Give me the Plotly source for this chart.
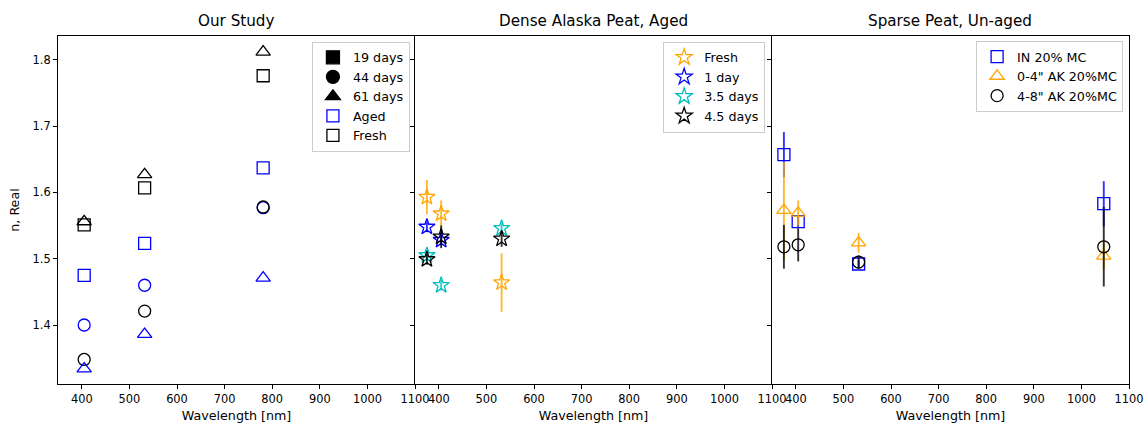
import plotly.graph_objects as go
from plotly.subplots import make_subplots

# ---------------- data ----------------
# Our Study (PAX wavelengths)
wl_ours = [405, 532, 781]
fresh_19d = [1.551, 1.607, 1.776]
aged_19d = [1.475, 1.523, 1.637]
fresh_44d = [1.348, 1.421, 1.578]
aged_44d = [1.400, 1.460, 1.577]
fresh_61d = [1.556, 1.627, 1.812]
aged_61d = [1.334, 1.386, 1.471]

# Dense Alaska Peat, Aged
wl_dense = [375, 405, 532]
dense_fresh = [1.593, 1.568, 1.464]
dense_fresh_err = [0.026, 0.020, 0.044]
dense_1day = [1.548, 1.528, None]
dense_1day_err = [0.008, 0.008, 0.0]
dense_3p5day = [1.505, 1.460, 1.546]
dense_3p5day_err = [0.008, 0.008, 0.008]
dense_4p5day = [1.499, 1.533, 1.530]
dense_4p5day_err = [0.008, 0.017, 0.012]

# Sparse Peat, Un-aged
wl_sparse = [375, 405, 532, 1047]
in_20mc = [1.657, 1.556, 1.492, 1.583]
in_20mc_err = [0.034, 0.008, 0.006, 0.034]
ak_0_4 = [1.573, 1.569, 1.524, 1.504]
ak_0_4_err = [0.073, 0.019, 0.015, 0.020]
ak_4_8 = [1.518, 1.521, 1.495, 1.518]
ak_4_8_err = [0.033, 0.025, 0.010, 0.060]

titles = ["Our Study", "Dense Alaska Peat, Aged", "Sparse Peat, Un-aged"]
x_ticks = [400, 500, 600, 700, 800, 900, 1000, 1100]
y_ticks = [1.4, 1.5, 1.6, 1.7, 1.8]

# ---------------- style ----------------
FONT = "DejaVu Sans"
BLUE = "#0000ff"
BLACK = "#000000"
ORANGE = "#ffa500"
CYAN = "#00bfbf"
EW = 1.3  # marker edge width


def rgba(hex_color, a):
    h = hex_color.lstrip("#")
    r, g, b = int(h[0:2], 16), int(h[2:4], 16), int(h[4:6], 16)
    return f"rgba({r},{g},{b},{a})"


def marker(symbol, color, size):
    return dict(symbol=symbol, size=size, color=color,
                line=dict(color=color, width=EW))


def errbar(values, color):
    return dict(type="data", array=values, visible=True, width=0,
                thickness=1.9, color=rgba(color, 0.8))


fig = make_subplots(rows=1, cols=3, shared_yaxes=True,
                    horizontal_spacing=0, subplot_titles=titles)

SQ, CI, TR, ST = 12, 12, 12.5, 12.2

# ---- panel 1: our study ----
panel1 = [
    (aged_19d, "square-open", BLUE, SQ),
    (fresh_19d, "square-open", BLACK, SQ),
    (aged_44d, "circle-open", BLUE, CI),
    (fresh_44d, "circle-open", BLACK, CI),
    (aged_61d, "triangle-up-open", BLUE, TR),
    (fresh_61d, "triangle-up-open", BLACK, TR),
]
for vals, sym, col, size in panel1:
    fig.add_trace(go.Scatter(x=wl_ours, y=vals, mode="markers",
                             marker=marker(sym, col, size),
                             showlegend=False, hoverinfo="x+y"),
                  row=1, col=1)

# legend-only entries for panel 1
legend1 = [
    ("19 days", "square", BLACK, 13),
    ("44 days", "circle", BLACK, 13),
    ("61 days", "triangle-up", BLACK, 13),
    ("Aged", "square-open", BLUE, 12),
    ("Fresh", "square-open", BLACK, 12),
]
for name, sym, col, size in legend1:
    fig.add_trace(go.Scatter(x=[None], y=[None], mode="markers", name=name,
                             marker=marker(sym, col, size),
                             legend="legend"),
                  row=1, col=1)

# ---- panel 2: dense Alaska peat ----
panel2 = [
    ("Fresh", dense_fresh, dense_fresh_err, ORANGE),
    ("1 day", dense_1day, dense_1day_err, BLUE),
    ("3.5 days", dense_3p5day, dense_3p5day_err, CYAN),
    ("4.5 days", dense_4p5day, dense_4p5day_err, BLACK),
]
for name, vals, err, col in panel2:
    fig.add_trace(go.Scatter(x=wl_dense, y=vals, mode="markers", name=name,
                             marker=marker("star-open", col, ST),
                             error_y=errbar(err, col),
                             legend="legend2"),
                  row=1, col=2)

# ---- panel 3: sparse peat ----
panel3 = [
    ("IN 20% MC", in_20mc, in_20mc_err, BLUE, "square-open", SQ),
    ('0-4" AK 20%MC', ak_0_4, ak_0_4_err, ORANGE, "triangle-up-open", TR),
    ('4-8" AK 20%MC', ak_4_8, ak_4_8_err, BLACK, "circle-open", CI),
]
for name, vals, err, col, sym, size in panel3:
    fig.add_trace(go.Scatter(x=wl_sparse, y=vals, mode="markers", name=name,
                             marker=marker(sym, col, size),
                             error_y=errbar(err, col),
                             legend="legend3"),
                  row=1, col=3)

# ---------------- axes ----------------
tick_font = dict(family=FONT, size=11.4, color=BLACK)
label_font = dict(family=FONT, size=12.7, color=BLACK)
axis_common = dict(showline=True, linecolor=BLACK, linewidth=1,
                   ticks="outside", ticklen=4, tickwidth=1, tickcolor=BLACK,
                   tickfont=tick_font, showgrid=False, zeroline=False,
                   automargin=False)

for c in range(1, 4):
    fig.update_xaxes(range=[350, 1100], tickvals=x_ticks, mirror=True,
                     title=dict(text="Wavelength [nm]", font=label_font, standoff=9),
                     row=1, col=c, **axis_common)
    # the right-hand frame line of a panel is the left axis line of the next one
    fig.update_yaxes(range=[1.311, 1.836], tickvals=y_ticks, mirror=(c == 3),
                     row=1, col=c, **axis_common)
fig.update_yaxes(title=dict(text="n, Real", font=label_font, standoff=10),
                 row=1, col=1)

for ann in fig.layout.annotations:
    ann.font = dict(family=FONT, size=15.2, color=BLACK)
    ann.yshift = 4

legend_common = dict(xanchor="right", yanchor="top",
                     bgcolor="rgba(255,255,255,0.8)", bordercolor="#cccccc",
                     borderwidth=1, font=label_font, tracegroupgap=0)

fig.update_layout(
    width=1146, height=423,
    margin=dict(l=58, r=17, t=36, b=39, autoexpand=False),
    paper_bgcolor="white", plot_bgcolor="white",
    font=dict(family=FONT, color=BLACK),
    legend=dict(x=0.3286, y=0.984, **legend_common),
    legend2=dict(x=0.6603, y=0.984, **legend_common),
    legend3=dict(x=0.9945, y=0.986, **legend_common),
)

fig.write_html("out.html")
